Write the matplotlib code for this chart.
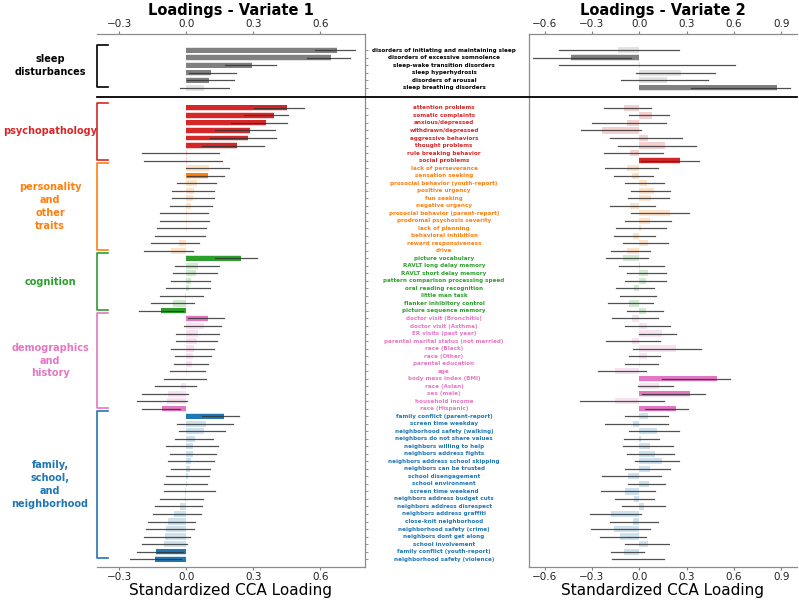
import numpy as np
import matplotlib.pyplot as plt
from matplotlib.lines import Line2D
from matplotlib.transforms import blended_transform_factory

plt.rcParams['font.family'] = 'DejaVu Sans'

# item names per group
sleep_items = ['disorders of initiating and maintaining sleep', 'disorders of excessive somnolence',
               'sleep-wake transition disorders', 'sleep hyperhydrosis', 'disorders of arousal',
               'sleep breathing disorders']
psych_items = ['attention problems', 'somatic complaints', 'anxious/depressed', 'withdrawn/depressed',
               'aggressive behaviors', 'thought problems', 'rule breaking behavior', 'social problems']
pers_items = ['lack of perseverance', 'sensation seeking', 'prosocial behavior (youth-report)',
              'positive urgency', 'fun seeking', 'negative urgency', 'prosocial behavior (parent-report)',
              'prodromal psychosis severity', 'lack of planning', 'behavioral inhibition',
              'reward responsiveness', 'drive']
cog_items = ['picture vocabulary', 'RAVLT long delay memory', 'RAVLT short delay memory',
             'pattern comparison processing speed', 'oral reading recognition', 'little man task',
             'flanker inhibitory control', 'picture sequence memory']
demo_items = ['doctor visit (Bronchitis)', 'doctor visit (Asthma)', 'ER visits (past year)',
              'parental marital status (not married)', 'race (Black)', 'race (Other)',
              'parental education', 'age', 'body mass index (BMI)', 'race (Asian)', 'sex (male)',
              'household income', 'race (Hispanic)']
env_items = ['family conflict (parent-report)', 'screen time weekday', 'neighborhood safety (walking)',
             'neighbors do not share values', 'neighbors willing to help', 'neighbors address fights',
             'neighbors address school skipping', 'neighbors can be trusted', 'school disengagement',
             'school environment', 'screen time weekend', 'neighbors address budget cuts',
             'neighbors address disrespect', 'neighbors address graffiti', 'close-knit neighborhood',
             'neighborhood safety (crime)', 'neighbors dont get along', 'school involvement',
             'family conflict (youth-report)', 'neighborhood safety (violence)']

group_items = [sleep_items, psych_items, pers_items, cog_items, demo_items, env_items]
group_names = ['sleep\ndisturbances', 'psychopathology', 'personality\nand\nother\ntraits',
               'cognition', 'demographics\nand\nhistory', 'family,\nschool,\nand\nneighborhood']
bar_colors = ['#808080', '#d62728', '#ff7f0e', '#2ca02c', '#e377c2', '#1f77b4']
text_colors = ['black', '#d62728', '#ff7f0e', '#2ca02c', '#e377c2', '#1f77b4']

# variate 1 loadings, CI and significance
v1 = [0.676, 0.649, 0.293, 0.111, 0.100, 0.078,
      0.451, 0.392, 0.356, 0.286, 0.278, 0.227, 0.002, 0.003,
      0.103, 0.096, 0.046, 0.033, 0.032, 0.022, 0.005, 0.004, 0.003, -0.003, -0.034, -0.070,
      0.245, 0.054, 0.043, 0.021, 0.010, -0.006, -0.058, -0.112,
      0.096, 0.081, 0.052, 0.048, 0.033, 0.030, 0.027, 0.003, 0.000, -0.025, -0.080, -0.085, -0.110,
      0.167, 0.088, 0.079, 0.040, 0.031, 0.030, 0.021, 0.018, 0.009, 0.001, -0.005, -0.004,
      -0.028, -0.054, -0.080, -0.090, -0.095, -0.100, -0.135, -0.140]
lo1 = [0.578, 0.540, 0.173, 0.010, 0.001, -0.028,
       0.302, 0.260, 0.202, 0.130, 0.106, 0.070, -0.200, -0.190,
       -0.001, 0.001, -0.043, -0.064, -0.064, -0.072, -0.120, -0.120, -0.130, -0.140, -0.160, -0.190,
       0.130, -0.049, -0.058, -0.069, -0.090, -0.120, -0.160, -0.210,
       0.006, -0.009, -0.046, -0.046, -0.069, -0.049, -0.054, -0.072, -0.100, -0.140, -0.200, -0.220, -0.200,
       0.069, -0.043, -0.034, -0.049, -0.090, -0.072, -0.080, -0.069, -0.090, -0.100, -0.100, -0.120,
       -0.140, -0.150, -0.170, -0.180, -0.190, -0.200, -0.220, -0.250]
hi1 = [0.757, 0.734, 0.402, 0.223, 0.212, 0.193,
       0.526, 0.456, 0.451, 0.395, 0.402, 0.350, 0.145, 0.158,
       0.193, 0.170, 0.133, 0.122, 0.122, 0.115, 0.097, 0.100, 0.088, 0.084, 0.058, 0.028,
       0.317, 0.148, 0.138, 0.106, 0.108, 0.075, 0.036, -0.013,
       0.170, 0.156, 0.145, 0.137, 0.126, 0.111, 0.099, 0.085, 0.090, 0.043, 0.009, 0.001, -0.027,
       0.238, 0.211, 0.173, 0.120, 0.143, 0.131, 0.122, 0.106, 0.100, 0.093, 0.129, 0.075,
       0.072, 0.067, 0.037, 0.034, 0.017, 0.001, -0.017, -0.024]
sig1 = [1, 1, 1, 1, 1, 0,
        1, 1, 1, 1, 1, 1, 0, 0,
        0, 1, 0, 0, 0, 0, 0, 0, 0, 0, 0, 0,
        1, 0, 0, 0, 0, 0, 0, 1,
        1, 0, 0, 0, 0, 0, 0, 0, 0, 0, 0, 0, 1,
        1, 0, 0, 0, 0, 0, 0, 0, 0, 0, 0, 0,
        0, 0, 0, 0, 0, 0, 1, 1]

# variate 2 loadings, CI and significance
v2 = [-0.135, -0.435, 0.005, 0.264, 0.173, 0.872,
      -0.097, 0.081, -0.081, -0.234, 0.058, 0.166, -0.056, 0.257,
      -0.075, -0.049, 0.049, 0.093, 0.074, -0.059, 0.195, 0.068, 0.010, -0.042, 0.053, -0.080,
      -0.106, 0.005, 0.057, 0.042, -0.036, -0.003, -0.064, 0.042,
      -0.049, 0.051, 0.141, -0.049, 0.232, 0.047, 0.005, -0.153, 0.495, 0.127, 0.321, -0.153, 0.230,
      0.053, -0.042, 0.112, 0.013, 0.070, 0.097, 0.144, 0.070, -0.074, 0.064, -0.091, -0.036,
      0.032, -0.178, -0.042, -0.163, -0.121, 0.055, -0.095, 0.000]
lo2 = [-0.510, -0.675, -0.512, -0.022, -0.118, 0.325,
       -0.226, -0.065, -0.298, -0.367, -0.188, -0.135, -0.224, 0.014,
       -0.219, -0.162, -0.092, -0.050, -0.071, -0.183, -0.050, -0.092, -0.145, -0.162, -0.103, -0.181,
       -0.213, -0.130, -0.077, -0.090, -0.145, -0.120, -0.196, -0.080,
       -0.173, -0.092, -0.003, -0.209, -0.043, -0.066, -0.092, -0.262, 0.141, -0.011, 0.020, -0.378, 0.035,
       -0.090, -0.219, -0.065, -0.099, -0.103, -0.077, -0.030, -0.092, -0.238, -0.071, -0.245, -0.152,
       -0.108, -0.313, -0.183, -0.309, -0.252, -0.090, -0.180, -0.176]
hi2 = [0.250, -0.050, 0.607, 0.480, 0.433, 0.957,
       0.077, 0.188, 0.168, 0.010, 0.268, 0.359, 0.151, 0.380,
       0.116, 0.084, 0.156, 0.194, 0.190, 0.100, 0.317, 0.202, 0.168, 0.100, 0.181, 0.067,
       0.056, 0.156, 0.170, 0.170, 0.094, 0.109, 0.088, 0.150,
       0.120, 0.194, 0.236, 0.132, 0.391, 0.131, 0.117, 0.045, 0.573, 0.215, 0.414, 0.154, 0.306,
       0.180, 0.179, 0.250, 0.125, 0.215, 0.221, 0.253, 0.194, 0.135, 0.163, 0.100, 0.094,
       0.165, 0.010, 0.120, 0.065, 0.045, 0.187, 0.032, 0.159]
sig2 = [0, 1, 0, 0, 0, 1,
        0, 0, 0, 0, 0, 0, 0, 1,
        0, 0, 0, 0, 0, 0, 0, 0, 0, 0, 0, 0,
        0, 0, 0, 0, 0, 0, 0, 0,
        0, 0, 0, 0, 0, 0, 0, 0, 1, 0, 1, 0, 1,
        0, 0, 0, 0, 0, 0, 0, 0, 0, 0, 0, 0,
        0, 0, 0, 0, 0, 0, 0, 0]

# row positions (gap between sleep block and the rest)
labels, grp, ypos = [], [], []
k = 0
for g, names in enumerate(group_items):
    for name in names:
        labels.append(name)
        grp.append(g)
        ypos.append(k if g == 0 else k + 1.7)
        k += 1
ypos = np.array(ypos)
y_sep = 6.25

fig = plt.figure(figsize=(7.99, 6), dpi=100)
ax1 = fig.add_axes([0.1214, 0.055, 0.3354, 0.8883])
ax2 = fig.add_axes([0.662, 0.055, 0.3354, 0.8883])


def draw_panel(ax, vals, lo, hi, sig):
    for i in range(len(vals)):
        c = bar_colors[grp[i]]
        ax.barh(ypos[i], vals[i], height=0.82, color=c, alpha=0.22, lw=0)
        if sig[i]:
            ax.barh(ypos[i], vals[i], height=0.66, color=c, lw=0)
        ax.plot([lo[i], hi[i]], [ypos[i], ypos[i]], color='#333333', lw=0.9, alpha=0.85)
    ax.set_ylim(68.75, -2.13)
    ax.tick_params(axis='x', top=True, labeltop=True, labelsize=7.5, length=2, pad=1.5,
                   color='0.5', labelcolor='#222222')
    ax.set_xlabel('Standardized CCA Loading', fontsize=11, labelpad=1)
    for s in ax.spines.values():
        s.set_color('0.55')
        s.set_linewidth(0.9)


draw_panel(ax1, v1, lo1, hi1, sig1)
ax1.set_xlim(-0.40, 0.80)
ax1.set_xticks([-0.3, 0.0, 0.3, 0.6])
ax1.spines['left'].set_visible(False)
ax1.yaxis.tick_right()
ax1.set_yticks(ypos)
ax1.set_yticklabels([])
ax1.tick_params(axis='y', length=2.5, width=0.6, color='0.5')
ax1.set_title('Loadings - Variate 1', fontsize=10.5, fontweight='bold', pad=3)

draw_panel(ax2, v2, lo2, hi2, sig2)
ax2.set_xlim(-0.70, 1.0)
ax2.set_xticks([-0.6, -0.3, 0.0, 0.3, 0.6, 0.9])
ax2.spines['right'].set_visible(False)
ax2.set_yticks([])
ax2.set_title('Loadings - Variate 2', fontsize=10.5, fontweight='bold', pad=3)

# item labels in the middle
tr = blended_transform_factory(fig.transFigure, ax1.transData)
for i, name in enumerate(labels):
    fig.text(0.5557, ypos[i], name, transform=tr, ha='center', va='center',
             fontsize=4.1, fontweight='bold', color=text_colors[grp[i]])

# separator between sleep and the other domains
fig.add_artist(Line2D([0.1214, 0.9975], [y_sep, y_sep], transform=tr, color='black', lw=1.3))

# group brackets and names
tra = ax1.get_yaxis_transform()
for g, names in enumerate(group_items):
    idx = [i for i in range(len(labels)) if grp[i] == g]
    top, bot = ypos[idx[0]] - 0.7, ypos[idx[-1]] - 0.1
    c = text_colors[g]
    ax1.plot([0.041, 0, 0, 0.041], [top, top, bot, bot], transform=tra, color=c,
             lw=1.2, clip_on=False)
    ax1.text(-0.175, (top + bot) / 2, group_names[g], transform=tra, ha='center', va='center',
             fontsize=7, fontweight='bold', color=c, linespacing=1.35)

plt.savefig('out.png', dpi=100)
